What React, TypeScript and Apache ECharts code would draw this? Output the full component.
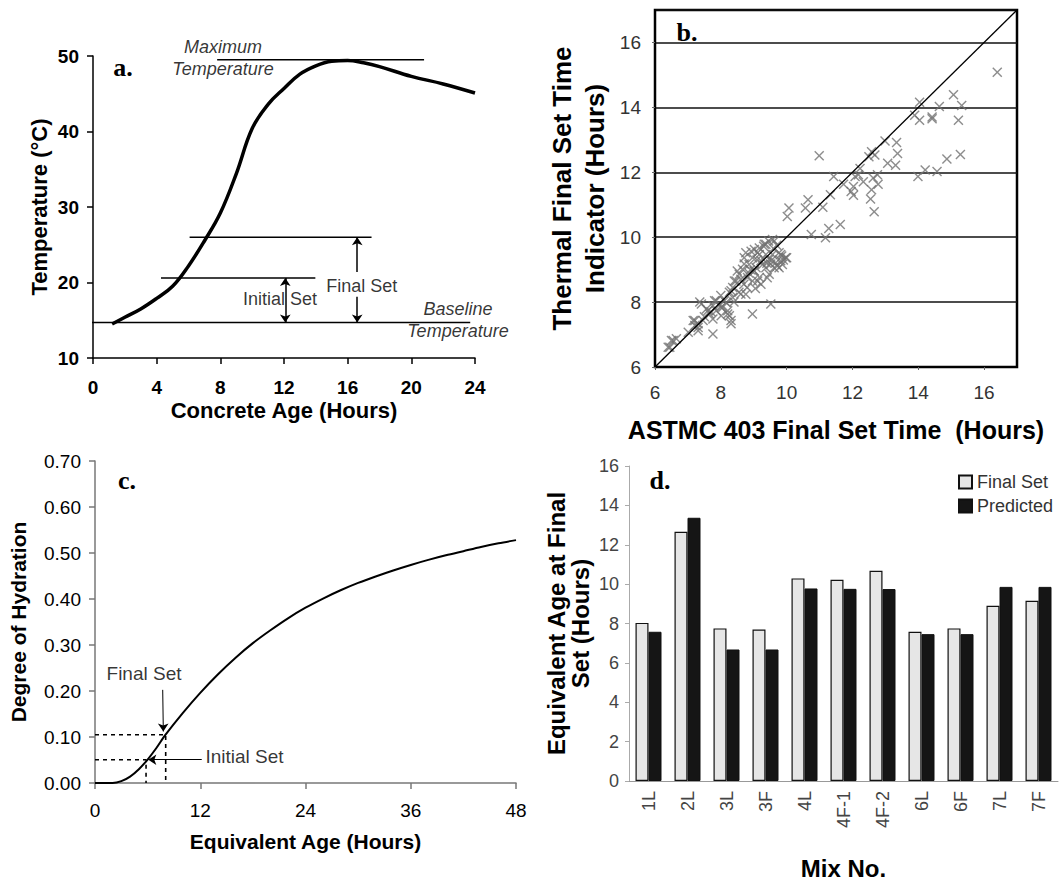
import React, { useEffect, useRef } from "react";
import * as echarts from "echarts";

// ---------- Panel a: temperature curve ----------
const ageA = [1.2, 2, 3, 4, 5, 6, 7, 8, 9, 10, 11, 12, 13, 14, 15, 16, 17, 18, 20, 22, 24];
const tempA = [14.5, 15.4, 16.5, 17.9, 19.5, 22.2, 25.5, 29.2, 34.4, 40.4, 43.6, 45.7, 47.6, 48.7, 49.3, 49.4, 49.1, 48.6, 47.3, 46.3, 45.1];
const refLinesA = [
  { x1: 7.8, x2: 20.8, y: 49.5 },
  { x1: 6.07, x2: 17.5, y: 26.0 },
  { x1: 4.27, x2: 13.97, y: 20.6 },
  { x1: -0.5, x2: 23.7, y: 14.7 },
];
const arrowsA = [
  { x: 12.08, y1: 20.6, y2: 14.7, s1: "arrow", s2: "arrow" },
  { x: 16.6, y1: 21.4, y2: 26.0, s1: "none", s2: "arrow" },
  { x: 16.6, y1: 18.1, y2: 14.7, s1: "none", s2: "arrow" },
];
const notesA = [
  { x: 8.17, y: 49.8, text: "Maximum\nTemperature", italic: true },
  { x: 22.93, y: 15.03, text: "Baseline\nTemperature", italic: true },
  { x: 11.75, y: 17.8, text: "Initial Set", italic: false },
  { x: 16.88, y: 19.58, text: "Final Set", italic: false },
];

// ---------- Panel b: scatter ----------
const scatterB: [number, number][] = [
  [16.4, 15.08], [15.07, 14.39], [15.32, 14.06], [15.22, 13.6], [15.28, 12.55], [14.87, 12.41],
  [14.57, 12.02], [14.21, 12.07], [13.99, 11.87], [14.64, 14.03], [14.42, 13.7], [14.42, 13.65],
  [14.04, 14.16], [14.04, 13.6], [13.89, 13.76], [13.34, 12.92], [13.37, 12.58], [13.31, 12.22],
  [13.07, 12.28], [12.99, 12.96], [12.68, 12.53], [12.58, 12.63], [12.5, 12.48], [12.76, 11.92],
  [12.63, 11.82], [12.78, 11.63], [12.58, 11.46], [12.55, 11.18], [12.66, 10.78], [12.23, 12.12],
  [12.18, 11.92], [12.08, 11.87], [12.33, 11.71], [12.03, 11.56], [11.96, 11.41], [12.03, 11.29],
  [11.73, 11.63], [11.43, 11.87], [11.33, 11.31], [11.63, 10.39], [11.28, 10.27], [11.18, 9.98],
  [11.1, 10.92], [10.99, 12.51], [10.75, 10.08], [10.65, 11.15], [10.57, 10.9], [10.07, 10.9],
  [10.02, 10.64],
  [9.57, 9.93], [9.37, 9.78], [9.17, 9.67], [9.02, 9.62], [8.76, 9.52], [8.71, 9.37], [8.96, 9.37],
  [9.17, 9.47], [9.37, 9.47], [9.57, 9.47], [9.77, 9.52], [9.97, 9.37], [9.82, 9.27], [9.67, 9.21],
  [9.47, 9.32], [9.27, 9.16], [9.07, 9.06], [8.86, 9.16], [8.66, 9.01], [8.56, 8.86], [8.46, 8.65],
  [8.61, 8.7], [8.81, 8.76], [9.02, 8.96], [9.17, 8.76], [9.22, 8.55], [8.96, 8.65], [8.76, 8.24],
  [8.36, 8.45], [8.26, 8.3], [9.47, 8.86], [9.72, 9.11], [9.87, 9.16], [9.37, 9.06], [9.62, 9.06],
  [9.77, 9.06], [9.52, 7.94], [8.96, 7.63], [9.45, 9.88], [9.3, 9.72], [9.1, 9.3], [8.9, 9.0],
  [9.6, 9.65], [9.85, 9.42], [9.4, 9.2], [8.85, 8.9], [9.12, 9.52], [8.7, 8.55], [9.05, 8.42],
  [9.55, 9.3], [9.7, 9.75], [9.9, 9.3], [8.55, 8.3],
  [8.92, 9.57], [9.32, 9.78], [9.62, 9.88], [9.82, 9.47], [10.0, 9.37], [8.71, 9.17], [8.5, 8.96],
  [9.01, 8.96], [9.41, 8.75], [8.8, 8.45], [8.61, 8.25], [8.41, 8.65], [9.22, 9.27], [9.52, 9.17],
  [9.12, 8.65], [8.31, 8.35],
  [8.11, 8.04], [7.86, 8.04], [7.76, 7.89], [7.56, 7.79], [7.66, 7.63], [7.86, 7.73], [8.06, 7.84],
  [8.21, 7.73], [8.26, 7.58], [8.01, 7.58], [7.76, 7.48], [7.46, 7.43], [7.31, 7.33], [7.16, 7.43],
  [7.36, 8.0], [7.31, 7.12], [7.21, 7.28], [7.01, 7.07], [6.65, 6.87], [6.55, 6.82], [6.45, 6.61],
  [7.76, 7.02], [8.31, 7.33], [8.36, 8.14], [8.16, 7.99], [7.95, 7.9], [7.7, 7.7], [8.0, 8.2],
  [8.4, 8.0], [7.5, 7.55], [7.41, 7.94], [7.81, 8.04], [8.01, 7.84], [7.61, 7.74], [7.21, 7.43],
  [7.31, 7.22], [6.5, 6.82], [6.4, 6.61], [8.31, 7.43], [8.21, 7.63],
];
const diagonalB: [number, number][] = [[6, 6], [17, 17]];

// ---------- Panel c: degree of hydration ----------
const ageC = [0, 2, 3, 4, 5, 6, 7, 8, 10, 12, 14, 16, 18, 20, 22, 24, 26, 28, 30, 32, 34, 36, 38, 40, 42, 44, 46, 48];
const dohC = [0, 0, 0.004, 0.014, 0.03, 0.051, 0.076, 0.104, 0.152, 0.196, 0.236, 0.272, 0.304, 0.332, 0.358, 0.381, 0.401, 0.419, 0.435, 0.449, 0.462, 0.474, 0.485, 0.495, 0.504, 0.513, 0.521, 0.528];
const dashLinesC: [number, number][][] = [
  [[0, 0.105], [8.06, 0.105], [8.06, 0]],
  [[0, 0.0506], [5.82, 0.0506], [5.82, 0]],
];
const arrowsC = [
  { x1: 7.72, y1: 0.2025, x2: 7.79, y2: 0.112 },
  { x1: 12.17, y1: 0.0506, x2: 6.08, y2: 0.0506 },
];
const notesC = [
  { x: 5.59, y: 0.2387, text: "Final Set", pos: "inside" },
  { x: 12.54, y: 0.0577, text: "Initial Set", pos: "right" },
];

// ---------- Panel d: bars ----------
const mixes = ["1L", "2L", "3L", "3F", "4L", "4F-1", "4F-2", "6L", "6F", "7L", "7F"];
const finalSet = [8.03, 12.66, 7.75, 7.69, 10.29, 10.22, 10.68, 7.58, 7.75, 8.9, 9.15];
const predicted = [7.58, 13.37, 6.68, 6.68, 9.78, 9.76, 9.75, 7.46, 7.46, 9.86, 9.86];

const SANS = "'Liberation Sans', Arial, sans-serif";
const SERIF = "'Liberation Serif', 'Times New Roman', serif";
const X_SYMBOL = "path://M0,1L1,0L5,4L9,0L10,1L6,5L10,9L9,10L5,6L1,10L0,9L4,5Z";

export default function App() {
  const ref = useRef<HTMLDivElement>(null);
  useEffect(() => {
    if (!ref.current) return;
    const chart = echarts.init(ref.current, undefined, { renderer: "svg" });

    const labelHidden = { color: "rgba(0,0,0,0)" };

    const option: any = {
      animation: false,
      backgroundColor: "#fff",
      textStyle: { fontFamily: SANS },
      grid: [
        { left: 93, top: 56, width: 382, height: 302 },
        { left: 655, top: 10, width: 362, height: 357, show: true, borderColor: "#000", borderWidth: 2.5, backgroundColor: "transparent" },
        { left: 95, top: 461, width: 421, height: 322 },
        { left: 629, top: 466, width: 429, height: 315 },
      ],
      legend: {
        data: ["Final Set", "Predicted"],
        orient: "vertical",
        left: 953,
        top: 468,
        icon: "rect",
        itemWidth: 13,
        itemHeight: 13,
        itemGap: 6,
        textStyle: { fontSize: 18, color: "#333", fontFamily: SANS },
      },
      xAxis: [
        {
          gridIndex: 0, type: "value", min: 0, max: 24, interval: 4,
          axisLine: { lineStyle: { color: "#000", width: 1.5 } },
          axisTick: { length: 6, lineStyle: { color: "#000", width: 1.5 } },
          axisLabel: { fontSize: 19, fontWeight: "bold", color: "#000", margin: 20, fontFamily: SANS },
          splitLine: { show: false },
          name: "Concrete Age (Hours)", nameLocation: "middle", nameGap: 41,
          nameTextStyle: { fontSize: 22, fontWeight: "bold", color: "#000", fontFamily: SANS },
        },
        {
          gridIndex: 1, type: "value", min: 6, max: 17, interval: 2,
          axisLine: { show: true, lineStyle: { color: "#000", width: 2 } },
          axisTick: { length: 3, lineStyle: { color: "#666" } },
          axisLabel: { fontSize: 19, color: "#333", margin: 16, showMaxLabel: false, fontFamily: SANS },
          splitLine: { show: false },
          name: "ASTMC 403 Final Set Time  (Hours)", nameLocation: "middle", nameGap: 50,
          nameTextStyle: { fontSize: 25, fontWeight: "bold", color: "#000", fontFamily: SANS },
        },
        {
          gridIndex: 2, type: "value", min: 0, max: 48, interval: 12,
          axisLine: { lineStyle: { color: "#777", width: 1.5 } },
          axisTick: { length: 6, lineStyle: { color: "#777", width: 1.5 } },
          axisLabel: { fontSize: 19, color: "#000", margin: 18, fontFamily: SANS },
          splitLine: { show: false },
          name: "Equivalent Age (Hours)", nameLocation: "middle", nameGap: 48,
          nameTextStyle: { fontSize: 21, fontWeight: "bold", color: "#000", fontFamily: SANS },
        },
        {
          gridIndex: 3, type: "category", data: mixes,
          axisLine: { lineStyle: { color: "#999", width: 1 } },
          axisTick: { length: 4, lineStyle: { color: "#999" } },
          axisLabel: { rotate: 90, fontSize: 18, color: "#444", margin: 10, fontFamily: SANS },
          name: "Mix No.", nameLocation: "middle", nameGap: 75,
          nameTextStyle: { fontSize: 24, fontWeight: "bold", color: "#000", fontFamily: SANS },
        },
      ],
      yAxis: [
        {
          gridIndex: 0, type: "value", min: 10, max: 50, interval: 10,
          axisLine: { show: true, lineStyle: { color: "#000", width: 1.5 } },
          axisTick: { show: true, length: 6, lineStyle: { color: "#000", width: 1.5 } },
          axisLabel: { fontSize: 19, fontWeight: "bold", color: "#000", margin: 14, fontFamily: SANS },
          splitLine: { show: false },
          name: "Temperature (°C)", nameLocation: "middle", nameGap: 43,
          nameTextStyle: { fontSize: 22, fontWeight: "bold", color: "#000", fontFamily: SANS },
        },
        {
          gridIndex: 1, type: "value", min: 6, max: 17, interval: 2,
          axisLine: { show: true, lineStyle: { color: "#000", width: 2 } },
          axisTick: { show: true, length: 3, lineStyle: { color: "#666" } },
          axisLabel: { fontSize: 19, color: "#333", margin: 14, showMaxLabel: false, fontFamily: SANS },
          splitLine: { show: true, lineStyle: { color: "#111", width: 1.5 } },
          name: "Thermal Final Set Time\nIndicator (Hours)", nameLocation: "middle", nameGap: 44,
          nameTextStyle: { fontSize: 26, fontWeight: "bold", color: "#000", lineHeight: 33, fontFamily: SANS },
        },
        {
          gridIndex: 2, type: "value", min: 0, max: 0.7, interval: 0.1,
          axisLine: { show: true, lineStyle: { color: "#777", width: 1.5 } },
          axisTick: { show: true, length: 6, lineStyle: { color: "#777", width: 1.5 } },
          axisLabel: { fontSize: 19, color: "#000", margin: 14, fontFamily: SANS, formatter: (v: number) => v.toFixed(2) },
          splitLine: { show: false },
          name: "Degree of Hydration", nameLocation: "middle", nameGap: 66,
          nameTextStyle: { fontSize: 21, fontWeight: "bold", color: "#000", fontFamily: SANS },
        },
        {
          gridIndex: 3, type: "value", min: 0, max: 16, interval: 2,
          axisLine: { show: true, lineStyle: { color: "#aaa", width: 1 } },
          axisTick: { show: true, length: 4, lineStyle: { color: "#aaa" } },
          axisLabel: { fontSize: 18, color: "#444", margin: 10, fontFamily: SANS },
          splitLine: { show: false },
          name: "Equivalent Age at Final\nSet (Hours)", nameLocation: "middle", nameGap: 37,
          nameTextStyle: { fontSize: 24, fontWeight: "bold", color: "#000", lineHeight: 24, fontFamily: SANS },
        },
      ],
      series: [
        // Panel a curve + arrows
        {
          type: "line", xAxisIndex: 0, yAxisIndex: 0, smooth: 0.4, symbol: "none",
          data: ageA.map((x, i) => [x, tempA[i]]),
          lineStyle: { color: "#000", width: 3.5 },
          markLine: {
            silent: true, symbolSize: 8, label: { show: false },
            lineStyle: { color: "#000", width: 1.5, type: "solid" },
            data: arrowsA.map((a) => [
              { coord: [a.x, a.y1], symbol: a.s1 },
              { coord: [a.x, a.y2], symbol: a.s2 },
            ]),
          },
        },
        ...refLinesA.map((r) => ({
          type: "line", xAxisIndex: 0, yAxisIndex: 0, symbol: "none", clip: false,
          data: [[r.x1, r.y], [r.x2, r.y]],
          lineStyle: { color: "#000", width: 1.5 },
        })),
        {
          type: "scatter", xAxisIndex: 0, yAxisIndex: 0, symbolSize: 1, itemStyle: labelHidden, clip: false, z: 5,
          data: notesA.map((n) => ({
            value: [n.x, n.y],
            label: {
              show: true, position: "inside", formatter: n.text, fontSize: 18, color: "#000",
              fontStyle: n.italic ? "italic" : "normal", lineHeight: 22, fontFamily: SANS,
            },
          })),
        },
        // Panel b
        {
          type: "scatter", xAxisIndex: 1, yAxisIndex: 1, symbol: X_SYMBOL, symbolSize: 10,
          itemStyle: { color: "#707070" }, data: scatterB,
        },
        {
          type: "line", xAxisIndex: 1, yAxisIndex: 1, symbol: "none", data: diagonalB,
          lineStyle: { color: "#000", width: 1.3 },
        },
        // Panel c
        {
          type: "line", xAxisIndex: 2, yAxisIndex: 2, smooth: 0.3, symbol: "none",
          data: ageC.map((x, i) => [x, dohC[i]]),
          lineStyle: { color: "#000", width: 2 },
          markLine: {
            silent: true, symbolSize: 8, label: { show: false },
            lineStyle: { color: "#000", width: 1, type: "solid" },
            data: arrowsC.map((a) => [
              { coord: [a.x1, a.y1], symbol: "none" },
              { coord: [a.x2, a.y2], symbol: "arrow" },
            ]),
          },
        },
        ...dashLinesC.map((d) => ({
          type: "line", xAxisIndex: 2, yAxisIndex: 2, symbol: "none", data: d,
          lineStyle: { color: "#000", width: 1.6, type: [4, 4] },
        })),
        {
          type: "scatter", xAxisIndex: 2, yAxisIndex: 2, symbolSize: 1, itemStyle: labelHidden, clip: false, z: 5,
          data: notesC.map((n) => ({
            value: [n.x, n.y],
            label: {
              show: true, position: n.pos, distance: 0, formatter: n.text, fontSize: 19, color: "#000", fontFamily: SANS,
            },
          })),
        },
        // Panel d
        {
          name: "Final Set", type: "bar", xAxisIndex: 3, yAxisIndex: 3, data: finalSet,
          barWidth: 13, barGap: "0%",
          itemStyle: { color: "#e6e6e6", borderColor: "#111", borderWidth: 1.2 },
        },
        {
          name: "Predicted", type: "bar", xAxisIndex: 3, yAxisIndex: 3, data: predicted,
          barWidth: 13,
          itemStyle: { color: "#151515", borderColor: "#111", borderWidth: 1 },
        },
      ],
      graphic: [
        { type: "text", x: 123, y: 67, style: { text: "a.", font: `bold 26px ${SERIF}`, fill: "#000", textAlign: "center", textVerticalAlign: "middle" } },
        { type: "text", x: 687, y: 32, style: { text: "b.", font: `bold 26px ${SERIF}`, fill: "#000", textAlign: "center", textVerticalAlign: "middle" } },
        { type: "text", x: 127, y: 480, style: { text: "c.", font: `bold 26px ${SERIF}`, fill: "#000", textAlign: "center", textVerticalAlign: "middle" } },
        { type: "text", x: 660, y: 480, style: { text: "d.", font: `bold 26px ${SERIF}`, fill: "#000", textAlign: "center", textVerticalAlign: "middle" } },
      ],
    };

    chart.setOption(option);
    return () => chart.dispose();
  }, []);

  return (
    <div
      ref={ref}
      style={{ position: "absolute", left: 0, top: 0, width: 1059, height: 882, background: "#fff" }}
    />
  );
}
